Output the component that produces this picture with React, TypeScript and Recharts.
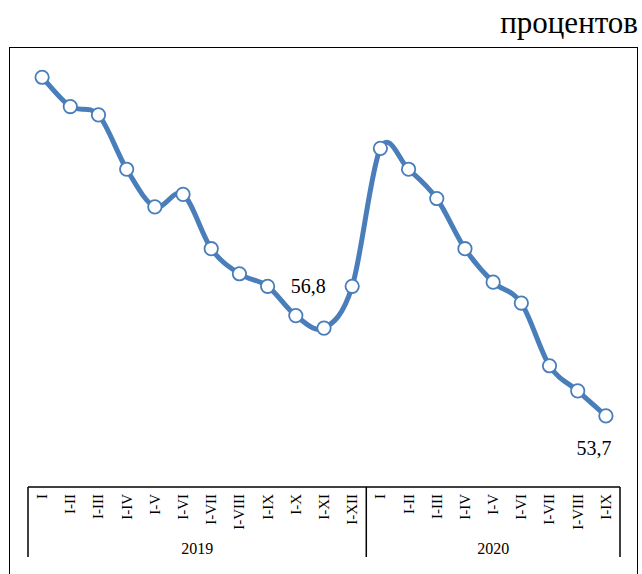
import React from 'react';
import { LineChart, Line, XAxis, YAxis } from 'recharts';

const months = ['I', 'I-II', 'I-III', 'I-IV', 'I-V', 'I-VI', 'I-VII', 'I-VIII', 'I-IX', 'I-X', 'I-XI', 'I-XII'];
const years = ['2019', '2020'];
const values2019 = [61.8, 61.1, 60.9, 59.6, 58.7, 59.0, 57.7, 57.1, 56.8, 56.1, 55.8, 56.8];
const values2020 = [60.1, 59.6, 58.9, 57.7, 56.9, 56.4, 54.9, 54.3, 53.7];
const labelled = ['2019:I-XII', '2020:I-IX'];

const data = [
    ...values2019.map((v, i) => ({ key: `2019:${months[i]}`, month: months[i], year: years[0], value: v })),
    ...values2020.map((v, i) => ({ key: `2020:${months[i]}`, month: months[i], year: years[1], value: v })),
];

const W = 642;
const H = 574;
const M_LEFT = 28;
const M_RIGHT = 22;
const M_TOP = 48;
const AXIS_H = 87;
const AXIS_Y = H - AXIS_H;
const BAND = (W - M_LEFT - M_RIGHT) / data.length;
const FONT = "'Liberation Serif', 'Times New Roman', serif";
const BLUE = '#4a7ebb';

// Excel-like smoothed line (bezier through points, control points at 1/6)
function smoothCurve(context: any) {
    let pts: number[][] = [];
    return {
        areaStart() {},
        areaEnd() {},
        lineStart() {
            pts = [];
        },
        point(x: number, y: number) {
            pts.push([+x, +y]);
        },
        lineEnd() {
            const n = pts.length;
            if (!n) return;
            context.moveTo(pts[0][0], pts[0][1]);
            for (let i = 0; i < n - 1; i++) {
                const p0 = pts[Math.max(i - 1, 0)];
                const p1 = pts[i];
                const p2 = pts[i + 1];
                const p3 = pts[Math.min(i + 2, n - 1)];
                context.bezierCurveTo(
                    p1[0] + (p2[0] - p0[0]) / 6,
                    p1[1] + (p2[1] - p0[1]) / 6,
                    p2[0] - (p3[0] - p1[0]) / 6,
                    p2[1] - (p3[1] - p1[1]) / 6,
                    p2[0],
                    p2[1]
                );
            }
        },
    };
}

const MonthTick = (props: any) => {
    const { payload } = props;
    const x = payload.coordinate;
    const i = payload.index;
    const row = data[i];
    const first = i === 0 || data[i - 1].year !== row.year;
    const last = i === data.length - 1;
    const count = data.filter((d) => d.year === row.year).length;
    return (
        <g>
            <text
                x={x}
                y={AXIS_Y + 7}
                transform={`rotate(-90, ${x}, ${AXIS_Y + 7})`}
                textAnchor="end"
                dy="0.33em"
                fontFamily={FONT}
                fontSize={15}
                fill="#000"
            >
                {row.month}
            </text>
            {first && (
                <>
                    <line x1={x - BAND / 2} y1={AXIS_Y} x2={x - BAND / 2} y2={AXIS_Y + 70} stroke="#000" strokeWidth={1.5} />
                    <text
                        x={x - BAND / 2 + (count * BAND) / 2}
                        y={AXIS_Y + 67}
                        textAnchor="middle"
                        fontFamily={FONT}
                        fontSize={16}
                        fill="#000"
                    >
                        {row.year}
                    </text>
                </>
            )}
            {last && (
                <line x1={x + BAND / 2} y1={AXIS_Y} x2={x + BAND / 2} y2={AXIS_Y + 70} stroke="#000" strokeWidth={1.5} />
            )}
        </g>
    );
};

const ValueLabel = (props: any) => {
    const { x, y, index, value } = props;
    const idx = labelled.indexOf(data[index].key);
    if (idx < 0) return null;
    const text = String(value.toFixed(1)).replace('.', ',');
    const pos = idx === 0 ? { dx: -44, dy: 7 } : { dx: -12, dy: 39 };
    return (
        <text x={x + pos.dx} y={y + pos.dy} textAnchor="middle" fontFamily={FONT} fontSize={20} fill="#000">
            {text}
        </text>
    );
};

export default function App() {
    return (
        <div style={{ position: 'absolute', left: 0, top: 0, width: W, height: H, overflow: 'hidden', background: '#fff' }}>
            <div
                style={{
                    position: 'absolute',
                    right: 4,
                    top: 6,
                    fontFamily: FONT,
                    fontSize: 31,
                    lineHeight: '34px',
                    color: '#000',
                }}
            >
                процентов
            </div>
            <div
                style={{
                    position: 'absolute',
                    left: 9,
                    top: 47,
                    width: 627,
                    height: 560,
                    border: '1.5px solid #000',
                }}
            />
            <div style={{ position: 'absolute', left: 0, top: 0 }}>
                <LineChart
                    width={W}
                    height={H}
                    data={data}
                    margin={{ top: M_TOP, right: M_RIGHT, left: M_LEFT, bottom: 0 }}
                    style={{ overflow: 'visible' }}
                >
                    <XAxis
                        dataKey="key"
                        height={AXIS_H}
                        interval={0}
                        padding={{ left: BAND / 2, right: BAND / 2 }}
                        tickLine={false}
                        axisLine={{ stroke: '#000', strokeWidth: 1.5 }}
                        tick={<MonthTick />}
                    />
                    <YAxis hide domain={[52, 62.5]} />
                    <Line
                        dataKey="value"
                        type={smoothCurve as any}
                        stroke={BLUE}
                        strokeWidth={5}
                        dot={{ r: 6.7, fill: '#fff', stroke: BLUE, strokeWidth: 1.8 }}
                        activeDot={false}
                        label={<ValueLabel />}
                        isAnimationActive={false}
                    />
                </LineChart>
            </div>
        </div>
    );
}
